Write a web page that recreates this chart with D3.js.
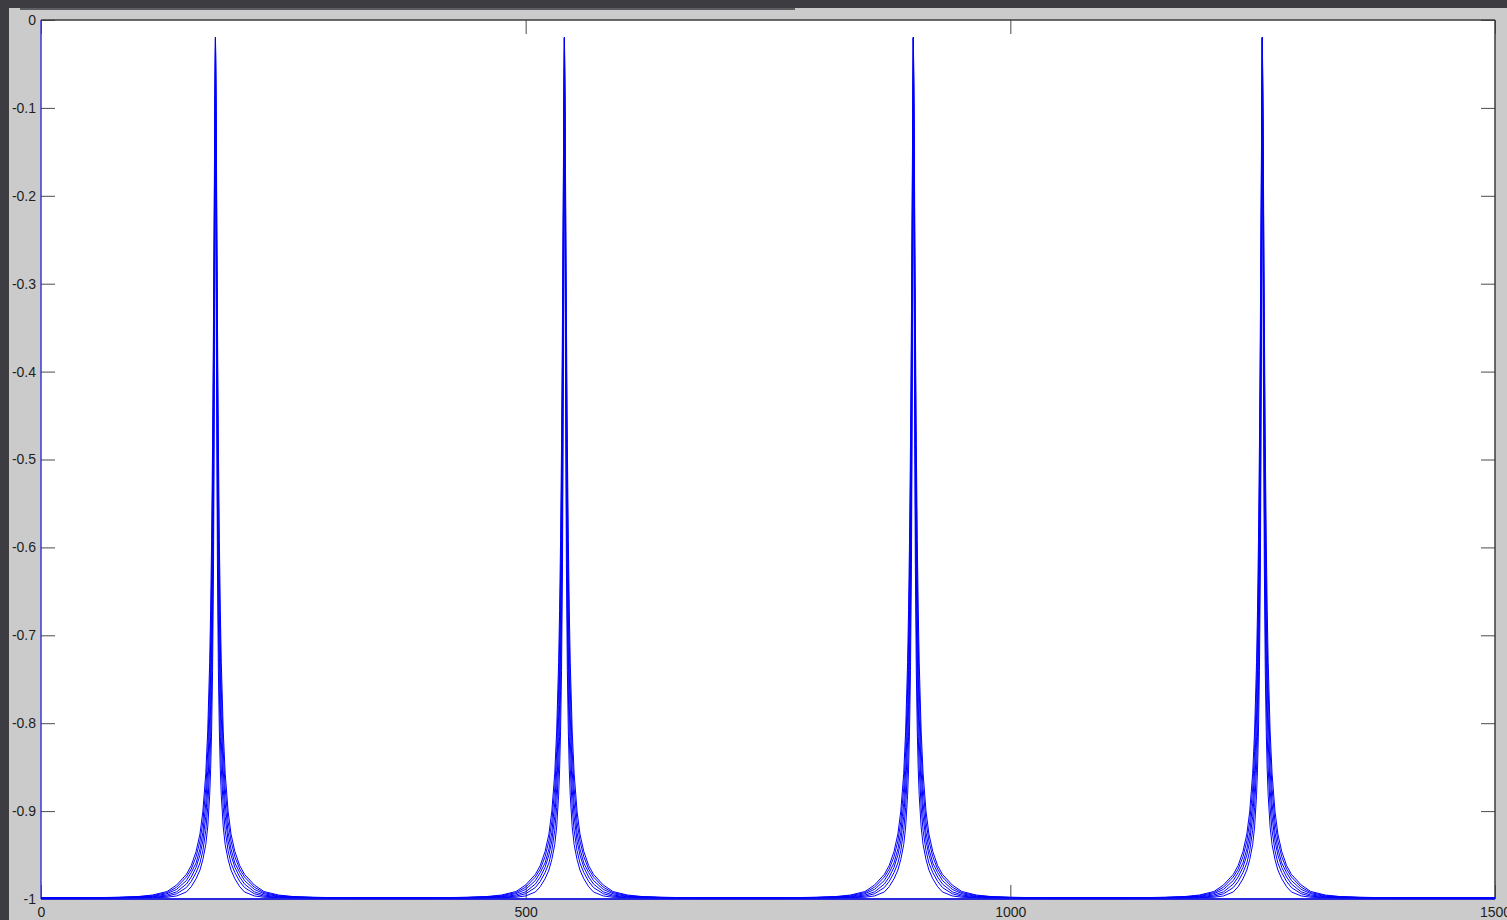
<!DOCTYPE html>
<html>
<head>
<meta charset="utf-8">
<script src="https://cdn.jsdelivr.net/npm/d3@7"></script>
<style>
  html, body { margin: 0; padding: 0; background: #3d3c40; overflow: hidden; }
  text { font-family: "Liberation Sans Narrow", "Arial Narrow", "Liberation Sans", Arial, sans-serif; }
</style>
</head>
<body>
<div id="chart"></div>
<script>
// peak positions along x and the distances from a peak at which the curves were read
const peakCenters = [180, 540, 900, 1260];
const peakOffsets = [0, 1, 2, 3, 4, 5, 6, 8, 10, 13, 16, 20, 25, 30, 40, 50, 65, 80, 100, 130, 180, 240];

// one row per curve, narrowest first (values read at the offsets above, both sides alike)
const curveA = [-0.02, -0.385, -0.618, -0.740, -0.809, -0.853, -0.882, -0.918, -0.938, -0.955, -0.967, -0.977, -0.986, -0.992, -0.9965, -0.998, -0.9985, -0.9987, -0.9988, -0.9988, -0.9988, -0.9988];
const curveB = [-0.02, -0.315, -0.547, -0.681, -0.763, -0.815, -0.851, -0.896, -0.922, -0.945, -0.959, -0.970, -0.980, -0.987, -0.994, -0.9968, -0.998, -0.9984, -0.9986, -0.9987, -0.9988, -0.9988];
const curveC = [-0.02, -0.262, -0.484, -0.627, -0.718, -0.779, -0.821, -0.875, -0.906, -0.934, -0.950, -0.964, -0.975, -0.983, -0.9918, -0.9955, -0.9975, -0.998, -0.9984, -0.9986, -0.9988, -0.9988];
const curveD = [-0.02, -0.218, -0.429, -0.577, -0.676, -0.744, -0.792, -0.854, -0.891, -0.924, -0.943, -0.959, -0.970, -0.979, -0.989, -0.994, -0.997, -0.9978, -0.9983, -0.9986, -0.9988, -0.9988];
const curveE = [-0.02, -0.184, -0.379, -0.528, -0.633, -0.708, -0.761, -0.832, -0.874, -0.912, -0.934, -0.952, -0.966, -0.975, -0.9865, -0.9928, -0.9962, -0.9975, -0.9982, -0.9986, -0.9988, -0.9988];
const curveF = [-0.02, -0.156, -0.336, -0.483, -0.592, -0.672, -0.731, -0.809, -0.857, -0.900, -0.926, -0.946, -0.962, -0.972, -0.984, -0.9915, -0.9955, -0.9972, -0.998, -0.9986, -0.9988, -0.9988];
const curves = [curveA, curveB, curveC, curveD, curveE, curveF];

const xTicks = [0, 500, 1000, 1500];
const xTickLabels = ["0", "500", "1000", "1500"];
const yTicks = [0, -0.1, -0.2, -0.3, -0.4, -0.5, -0.6, -0.7, -0.8, -0.9, -1];
const yTickLabels = ["0", "-0.1", "-0.2", "-0.3", "-0.4", "-0.5", "-0.6", "-0.7", "-0.8", "-0.9", "-1"];

const width = 1507,
    height = 920;
const plotLeft = 41, plotRight = 1495, plotTop = 20, plotBottom = 899;

let svg = d3.select("#chart")
    .append("svg")
    .attr("width", width)
    .attr("height", height);

// window chrome: dark frame, grey figure panel, thin strip on top
svg.append("rect").attr("width", width).attr("height", height).attr("fill", "#3d3c40");
svg.append("rect").attr("x", 9).attr("y", 8).attr("width", width - 9).attr("height", height - 8).attr("fill", "#cbcbcb");
svg.append("rect").attr("x", 20).attr("y", 8).attr("width", 775).attr("height", 2).attr("fill", "#5e5d61");

svg.append("rect")
    .attr("x", plotLeft).attr("y", plotTop)
    .attr("width", plotRight - plotLeft).attr("height", plotBottom - plotTop)
    .attr("fill", "#ffffff");

let x = d3.scaleLinear().domain([0, 1500]).range([plotLeft, plotRight]);
let y = d3.scaleLinear().domain([-1, 0]).range([plotBottom, plotTop]);

// axes with inward ticks on all four sides
let styleAxis = function (g) {
    g.select(".domain").remove();
    g.selectAll(".tick line").attr("stroke", "#4a4a4a");
    g.selectAll(".tick text").attr("fill", "#1e1e1e").style("font-size", "14px");
};

svg.append("g")
    .attr("transform", "translate(" + plotLeft + ",0)")
    .call(d3.axisLeft(y).tickValues(yTicks).tickSize(-14).tickPadding(5)
        .tickFormat(function (d, i) { return yTickLabels[i]; }))
    .call(styleAxis);

svg.append("g")
    .attr("transform", "translate(" + plotRight + ",0)")
    .call(d3.axisRight(y).tickValues(yTicks).tickSize(-14).tickFormat(""))
    .call(styleAxis);

svg.append("g")
    .attr("transform", "translate(0," + plotBottom + ")")
    .call(d3.axisBottom(x).tickValues(xTicks).tickSize(-14).tickPadding(8)
        .tickFormat(function (d, i) { return xTickLabels[i]; }))
    .call(styleAxis);

svg.append("g")
    .attr("transform", "translate(0," + plotTop + ")")
    .call(d3.axisTop(x).tickValues(xTicks).tickSize(-14).tickFormat(""))
    .call(styleAxis);

// box
svg.append("line").attr("x1", plotLeft).attr("x2", plotRight).attr("y1", plotTop).attr("y2", plotTop)
    .attr("stroke", "#3c3c3c").attr("stroke-width", 1.5);
svg.append("line").attr("x1", plotRight).attr("x2", plotRight).attr("y1", plotTop).attr("y2", plotBottom)
    .attr("stroke", "#3c3c3c").attr("stroke-width", 1.5);
svg.append("line").attr("x1", plotLeft).attr("x2", plotRight).attr("y1", plotBottom).attr("y2", plotBottom)
    .attr("stroke", "#2a2ad8").attr("stroke-width", 2);
svg.append("line").attr("x1", plotLeft).attr("x2", plotLeft).attr("y1", plotTop).attr("y2", plotBottom)
    .attr("stroke", "#3a3ad0").attr("stroke-width", 1.5);

// lay each curve's profile at every peak
let buildSeries = function (values) {
    let pts = [];
    peakCenters.forEach(function (c, i) {
        let lo = i === 0 ? 0 : c - 180;
        let hi = i === peakCenters.length - 1 ? 1500 : c + 180;
        for (let k = peakOffsets.length - 1; k > 0; k--) {
            let xv = c - peakOffsets[k];
            if (xv >= lo && (i === 0 || xv > lo)) pts.push([xv, values[k]]);
        }
        for (let k = 0; k < peakOffsets.length; k++) {
            let xv = c + peakOffsets[k];
            if (xv <= hi) pts.push([xv, values[k]]);
        }
    });
    return pts;
};

let line = d3.line()
    .x(function (d) { return x(d[0]); })
    .y(function (d) { return y(d[1]); });

svg.selectAll("path.curve")
    .data(curves)
    .enter()
    .append("path")
    .attr("class", "curve")
    .attr("d", function (d) { return line(buildSeries(d)); })
    .attr("fill", "none")
    .attr("stroke", "#0000ff")
    .attr("stroke-width", 1);
</script>
</body>
</html>
